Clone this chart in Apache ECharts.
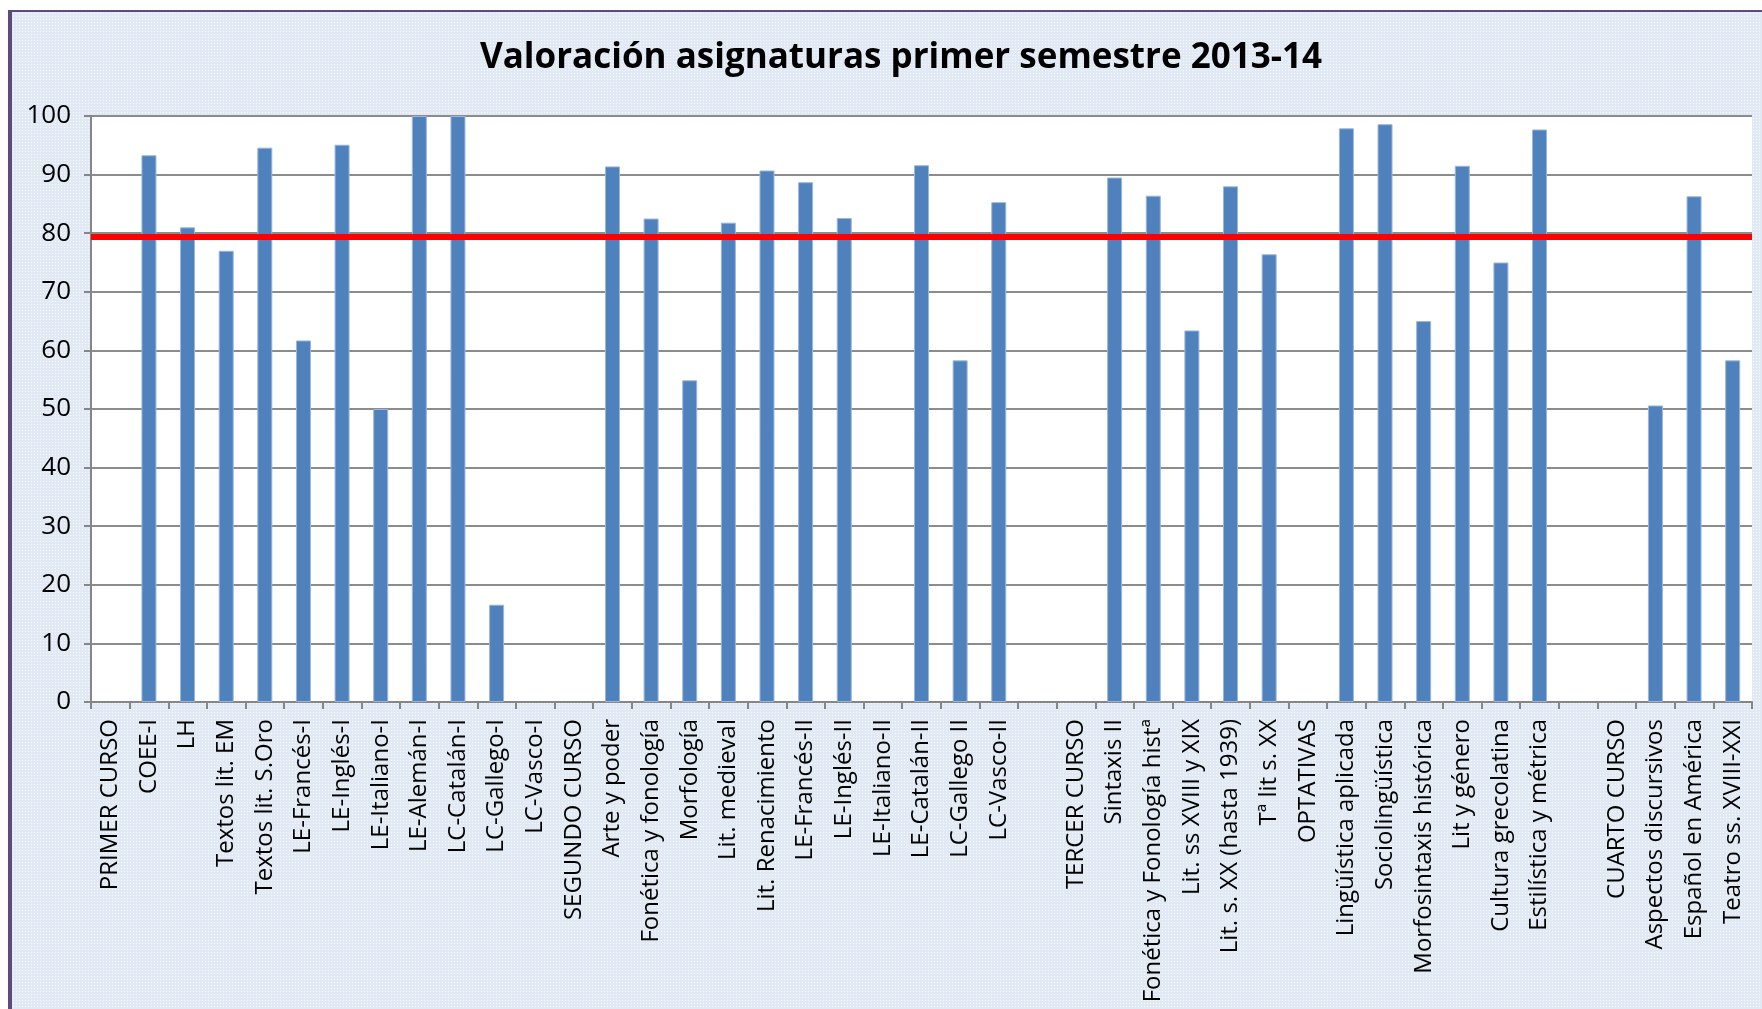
<!DOCTYPE html>
<html lang="es">
<head>
    <meta charset="UTF-8">
    <title>Valoración asignaturas</title>
    <script src="https://cdn.jsdelivr.net/npm/echarts@6/dist/echarts.min.js"></script>
    <style>
    html, body {
        margin: 0;
        padding: 0;
        background: #fff;
    }
    .page {
        position: relative;
        width: 1762px;
        height: 1009px;
        overflow: hidden;
        background: #fff;
    }
    .frame {
        position: absolute;
        left: 8px;
        top: 10px;
        width: 1800px;
        height: 1100px;
        border-left: 4px solid #5e4b7b;
        border-top: 2px solid #5e4b7b;
        background-color: #e1e9f4;
        background-image: radial-gradient(#f6f8fc 0.7px, transparent 0.9px);
        background-size: 3px 3px;
    }
    #chart {
        position: absolute;
        left: 0;
        top: 0;
        width: 1762px;
        height: 1009px;
    }
    </style>
</head>
<body>
    <div class="page">
        <div class="frame"></div>
        <div id="chart"></div>
    </div>
    <script>
        // asignaturas (eje X), huecos = cabeceras de curso
        var categories = [
            'PRIMER CURSO', 'COEE-I', 'LH', 'Textos lit. EM', 'Textos lit. S.Oro',
            'LE-Francés-I', 'LE-Inglés-I', 'LE-Italiano-I', 'LE-Alemán-I', 'LC-Catalán-I',
            'LC-Gallego-I', 'LC-Vasco-I', 'SEGUNDO CURSO', 'Arte y poder', 'Fonética y fonología',
            'Morfología', 'Lit. medieval', 'Lit. Renacimiento', 'LE-Francés-II', 'LE-Inglés-II',
            'LE-Italiano-II', 'LE-Catalán-II', 'LC-Gallego II', 'LC-Vasco-II', '',
            'TERCER CURSO', 'Sintaxis II', 'Fonética y Fonología histª', 'Lit. ss XVIII y XIX', 'Lit. s. XX (hasta 1939)',
            'Tª lit s. XX', 'OPTATIVAS', 'Lingüística aplicada', 'Sociolingüística', 'Morfosintaxis histórica',
            'Lit y género', 'Cultura grecolatina', 'Estilística y métrica', '', 'CUARTO CURSO',
            'Aspectos discursivos', 'Español en América', 'Teatro ss. XVIII-XXI'
        ];
        var scores = [
            null, 93.3, 81.0, 77.0, 94.6,
            61.7, 95.1, 50.0, 100, 100,
            16.6, null, null, 91.4, 82.5,
            54.9, 81.8, 90.7, 88.7, 82.6,
            null, 91.6, 58.3, 85.3, null,
            null, 89.5, 86.4, 63.4, 88.0,
            76.4, null, 97.9, 98.6, 65.0,
            91.5, 75.0, 97.7, null, null,
            50.6, 86.3, 58.3
        ];
        var threshold = 79.4;

        var myChart = echarts.init(document.getElementById('chart'), null, {renderer: 'canvas'});
        var option = {
            backgroundColor: 'transparent',
            animation: false,
            title: {
                text: 'Valoración asignaturas primer semestre 2013-14',
                left: 896,
                textAlign: 'center',
                top: 36,
                textStyle: {
                    fontFamily: 'Open Sans',
                    fontWeight: 'bold',
                    fontSize: 35,
                    color: '#000'
                }
            },
            grid: {
                left: 91,
                top: 116,
                width: 1661,
                height: 586,
                containLabel: false,
                show: true,
                backgroundColor: '#fff',
                borderWidth: 0
            },
            xAxis: {
                type: 'category',
                data: categories,
                axisLine: {lineStyle: {color: '#868686', width: 2}},
                axisTick: {show: true, length: 7, lineStyle: {color: '#868686', width: 2}},
                axisLabel: {
                    interval: 0,
                    rotate: 90,
                    margin: 17,
                    color: '#000',
                    fontFamily: 'Open Sans',
                    fontSize: 24
                }
            },
            yAxis: {
                type: 'value',
                min: 0,
                max: 100,
                interval: 10,
                axisLine: {show: true, lineStyle: {color: '#868686', width: 2}},
                axisTick: {show: true, length: 7, lineStyle: {color: '#868686', width: 2}},
                axisLabel: {
                    margin: 20,
                    color: '#000',
                    fontFamily: 'Open Sans',
                    fontSize: 26
                },
                splitLine: {lineStyle: {color: '#8c8c8c', width: 2}}
            },
            series: [{
                type: 'bar',
                data: scores,
                barWidth: 15,
                itemStyle: {
                    color: '#4f81bd',
                    borderColor: '#9ab6dc',
                    borderWidth: 1
                },
                markLine: {
                    silent: true,
                    symbol: 'none',
                    label: {show: false},
                    lineStyle: {color: '#ff0000', width: 6, type: 'solid'},
                    data: [{yAxis: threshold}]
                }
            }]
        };
        myChart.setOption(option);
    </script>
</body>
</html>
